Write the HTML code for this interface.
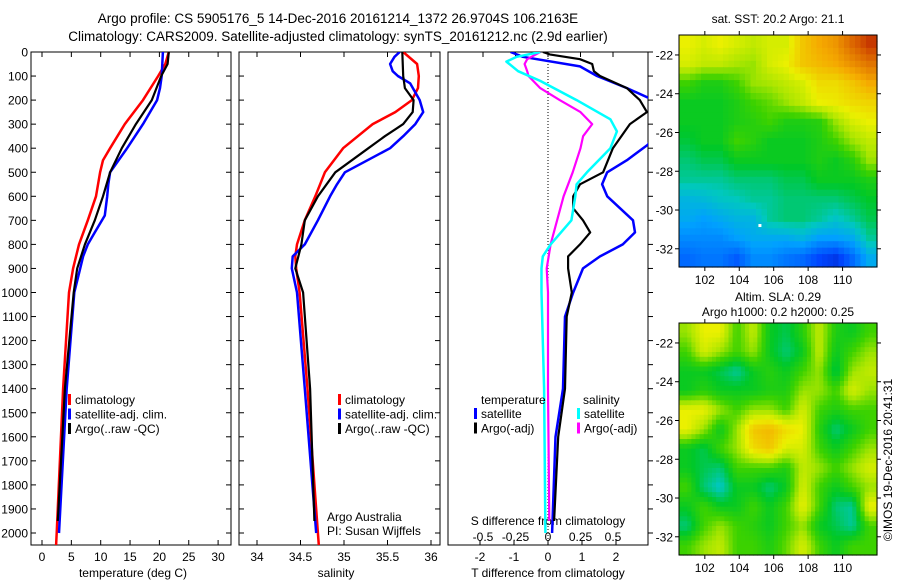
<!DOCTYPE html>
<html><head><meta charset="utf-8">
<style>
html,body{margin:0;padding:0;background:#fff;}
svg{display:block;font-family:"Liberation Sans",sans-serif;}
</style></head>
<body>
<svg id="fig" width="900" height="580" viewBox="0 0 900 580" xmlns="http://www.w3.org/2000/svg">
<text x="338" y="23" font-size="13.5" text-anchor="middle">Argo profile: CS 5905176_5 14-Dec-2016 20161214_1372 26.9704S 106.2163E</text>
<text x="338" y="41" font-size="13.5" text-anchor="middle">Climatology: CARS2009. Satellite-adjusted climatology: synTS_20161212.nc (2.9d earlier)</text>
<text x="778" y="23" font-size="12" text-anchor="middle">sat. SST: 20.2 Argo: 21.1</text>
<text x="778" y="301" font-size="12" text-anchor="middle">Altim. SLA: 0.29</text>
<text x="778" y="316" font-size="12" text-anchor="middle">Argo h1000: 0.2 h2000: 0.25</text>
<text transform="translate(892,460) rotate(-90)" font-size="12" text-anchor="middle">©IMOS 19-Dec-2016 20:41:31</text>
<g id="content"></g>
</svg>
<script>
// ---------- DATA ----------
const depthTicks = [0,100,200,300,400,500,600,700,800,900,1000,1100,1200,1300,1400,1500,1600,1700,1800,1900,2000];
const tempTicks = [0,5,10,15,20,25,30];
const salTicks = [34,34.5,35,35.5,36];
const salTickLabels = ["34","34.5","35","35.5","36"];
const tdiffTicks = [-2,-1,0,1,2];
const sdiffTicks = [-0.5,-0.25,0,0.25,0.5];
const sdiffTickLabels = ["-0.5","-0.25","0","0.25","0.5"];

const tClimDepth = [0,50,100,200,300,400,450,500,600,700,800,900,1000,1400,2000,2050];
const tClimVal   = [21.6,21.0,19.8,17.2,14.1,11.6,10.4,9.9,9.2,7.8,6.3,5.3,4.6,3.6,2.5,2.4];
const tSatDepth  = [0,100,150,200,300,400,500,550,600,680,750,800,850,900,1000,1400,2000];
const tSatVal    = [20.6,20.4,20.1,19.6,17.2,14.5,11.6,11.3,11.1,10.7,9.0,7.8,7.0,6.5,5.5,4.2,2.9];
const tArgoDepth = [0,50,100,200,300,400,500,600,700,800,900,1000,1400,1950];
const tArgoVal   = [21.6,21.4,20.3,18.7,16.0,13.6,11.6,10.4,9.0,7.3,6.0,5.4,3.9,2.7];

const sClimDepth = [0,50,100,150,200,250,300,400,500,600,700,800,850,900,1000,1400,2000,2050];
const sClimVal   = [35.68,35.84,35.86,35.85,35.78,35.59,35.33,34.99,34.78,34.67,34.55,34.46,34.44,34.45,34.49,34.58,34.70,34.71];
const sSatDepth  = [0,20,50,80,100,130,200,250,300,350,400,500,550,600,700,800,850,900,1000,1400,2000];
const sSatVal    = [35.64,35.58,35.53,35.56,35.62,35.76,35.87,35.91,35.82,35.68,35.53,35.01,34.92,34.84,34.70,34.55,34.41,34.40,34.46,34.55,34.68];
const sArgoDepth = [0,100,150,200,250,300,350,400,500,600,700,800,900,1000,1400,1950];
const sArgoVal   = [35.67,35.68,35.70,35.80,35.79,35.68,35.47,35.28,34.90,34.70,34.55,34.51,34.44,34.53,34.61,34.66];

const dtSatDepth = [0,20,60,100,150,200,300,385,450,500,550,600,700,750,800,850,900,1000,1100,1400,1600,2000];
const dtSatVal   = [-1.1,-0.74,0.94,1.44,2.32,3.1,3.3,2.94,2.32,1.74,1.59,1.74,2.5,2.56,2.2,1.53,1.03,0.74,0.5,0.44,0.22,0.12];
const dtArgoDepth = [0,10,30,50,80,100,150,200,250,300,400,500,550,600,650,700,750,800,850,900,1000,1100,1400,1600,1950];
const dtArgoVal   = [-0.15,0.05,0.94,1.3,1.35,1.53,2.32,2.7,2.91,2.41,1.91,1.62,0.94,0.74,0.74,1.03,1.24,0.94,0.59,0.59,0.7,0.55,0.5,0.3,0.18];
const dsSatDepth = [0,20,40,80,120,200,280,330,400,500,550,600,700,800,850,900,1000,1400,2000];
const dsSatVal   = [-0.06,-0.24,-0.32,-0.23,-0.06,0.22,0.48,0.53,0.48,0.30,0.22,0.21,0.18,0.02,-0.04,-0.05,-0.05,-0.03,-0.02];
const dsArgoDepth = [0,30,50,80,100,150,200,250,300,350,400,500,600,700,800,900,1000,1400,1950];
const dsArgoVal   = [-0.06,-0.16,-0.18,-0.16,-0.15,-0.06,0.09,0.25,0.34,0.27,0.25,0.19,0.12,0.07,0.02,-0.01,0.0,0.0,0.01];

const lonTicks = [102,104,106,108,110];
const latTicks = [-22,-24,-26,-28,-30,-32];
const sstGrid = [
[.62,.60,.62,.60,.58,.60,.60,.68,.72,.75,.82,.88],
[.60,.58,.58,.56,.55,.60,.62,.68,.70,.72,.76,.80],
[.50,.47,.47,.50,.55,.56,.58,.60,.65,.65,.68,.72],
[.45,.45,.45,.47,.50,.52,.55,.58,.62,.63,.65,.66],
[.45,.45,.45,.47,.48,.50,.47,.47,.48,.55,.60,.62],
[.43,.45,.45,.50,.48,.45,.45,.45,.47,.50,.55,.58],
[.40,.42,.42,.45,.45,.45,.45,.45,.47,.45,.48,.55],
[.38,.38,.38,.40,.40,.40,.42,.42,.45,.45,.45,.47],
[.32,.33,.35,.36,.38,.38,.40,.40,.40,.40,.42,.44],
[.30,.28,.30,.32,.32,.38,.40,.40,.38,.35,.38,.42],
[.25,.25,.25,.28,.30,.30,.30,.32,.28,.28,.30,.38],
[.20,.22,.22,.18,.25,.25,.22,.20,.15,.12,.20,.30]];
const slaGrid = [
[.55,.62,.62,.50,.58,.45,.42,.48,.58,.47,.45,.50],
[.50,.60,.55,.50,.55,.45,.40,.45,.58,.45,.50,.55],
[.45,.45,.42,.38,.45,.48,.45,.50,.55,.42,.55,.58],
[.45,.48,.45,.45,.45,.47,.47,.55,.55,.50,.60,.55],
[.62,.62,.55,.50,.55,.55,.50,.60,.50,.47,.50,.50],
[.62,.55,.45,.55,.68,.70,.65,.62,.48,.40,.45,.50],
[.45,.42,.50,.55,.65,.68,.60,.60,.50,.45,.50,.55],
[.45,.42,.40,.50,.50,.50,.47,.58,.55,.50,.55,.60],
[.50,.40,.35,.45,.45,.40,.45,.60,.50,.45,.50,.55],
[.45,.50,.45,.45,.50,.45,.50,.62,.50,.40,.38,.62],
[.40,.50,.55,.50,.48,.45,.50,.55,.45,.42,.38,.50],
[.50,.55,.58,.50,.50,.47,.52,.60,.50,.45,.50,.50]];

// ---------- HELPERS ----------
const NS="http://www.w3.org/2000/svg";
const root=document.getElementById('content');
function mk(tag,attrs,parent){const e=document.createElementNS(NS,tag);for(const k in attrs)e.setAttribute(k,attrs[k]);(parent||root).appendChild(e);return e;}
const TOP=52, BOT=545;
const yD = d => TOP + d*0.2405;
const xT = v => 42 + v*5.87;
const xS = v => 257 + (v-34)*87;
const xDT = v => 548 + v*34;
const xDS = v => 548 + v*130;

function frame(x0,x1,name){
  const r=mk('rect',{x:x0,y:TOP,width:x1-x0,height:BOT-TOP,fill:'none',stroke:'#000','stroke-width':1});
  
  
}
function series(ds,vs,xf,color,w,name,x0,x1){
  const cid='c'+name;
  const cp=mk('clipPath',{id:cid});mk('rect',{x:x0,y:TOP,width:x1-x0,height:BOT-TOP},cp);
  const pts=ds.map((d,i)=>xf(vs[i]).toFixed(1)+','+yD(d).toFixed(1)).join(' ');
  const p=mk('polyline',{points:pts,fill:'none',stroke:color,'stroke-width':w,'stroke-linejoin':'round','clip-path':'url(#'+cid+')'});
  
  
}
function xticks(ticks,labels,xf,x0,x1,ly,name,top){
  ticks.forEach((t,i)=>{
    const x=xf(t);
    mk('line',{x1:x,y1:BOT,x2:x,y2:BOT-5,stroke:'#000'});
    if(top) mk('line',{x1:x,y1:TOP,x2:x,y2:TOP+5,stroke:'#000'});
    const tx=mk('text',{x:x,y:ly,'font-size':12,'text-anchor':'middle'});
    tx.textContent=labels[i];
    
    
  });
}
function axisTitle(x,y,txt,name){
  const t=mk('text',{x:x,y:y,'font-size':12,'text-anchor':'middle'});t.textContent=txt;
  
  
}
function legend(items,x,y0,name){
  items.forEach((it,i)=>{
    const y=y0+i*14.5;
    mk('rect',{x:x,y:y-10,width:3,height:11,fill:it[1]});
    const t=mk('text',{x:x+7,y:y,'font-size':12});t.textContent=it[0];
    
    
  });
}

// ---------- PANEL 1: temperature ----------
frame(31,231,'temperature-panel');
depthTicks.forEach(d=>{
  const y=yD(d);
  mk('line',{x1:31,y1:y,x2:36,y2:y,stroke:'#000'});
  mk('line',{x1:231,y1:y,x2:226,y2:y,stroke:'#000'});
  mk('line',{x1:239,y1:y,x2:244,y2:y,stroke:'#000'});
  mk('line',{x1:440,y1:y,x2:435,y2:y,stroke:'#000'});
  mk('line',{x1:648,y1:y,x2:653,y2:y,stroke:'#000'});
  const t=mk('text',{x:28,y:y+4.5,'font-size':12,'text-anchor':'end'});t.textContent=d;
  
  
});
xticks(tempTicks,tempTicks.map(String),xT,31,231,561,'temperature',true);
axisTitle(133,577,'temperature (deg C)','temperature-axis-title');
series(tClimDepth,tClimVal,xT,'#ff0000',2.5,'temp-climatology-line',31,231);
series(tSatDepth,tSatVal,xT,'#0000ff',2.5,'temp-satellite-line',31,231);
series(tArgoDepth,tArgoVal,xT,'#000000',2.2,'temp-argo-line',31,231);
legend([['climatology','#f00'],['satellite-adj. clim.','#00f'],['Argo(..raw -QC)','#000']],68,404,'temp-legend');

// ---------- PANEL 2: salinity ----------
frame(239,440,'salinity-panel');
xticks(salTicks,salTickLabels,xS,239,440,561,'salinity',true);
axisTitle(336,577,'salinity','salinity-axis-title');
series(sClimDepth,sClimVal,xS,'#ff0000',2.5,'sal-climatology-line',239,440);
series(sSatDepth,sSatVal,xS,'#0000ff',2.5,'sal-satellite-line',239,440);
series(sArgoDepth,sArgoVal,xS,'#000000',2.2,'sal-argo-line',239,440);
legend([['climatology','#f00'],['satellite-adj. clim.','#00f'],['Argo(..raw -QC)','#000']],338,404,'sal-legend');
(function(){const t=mk('text',{x:327,y:521,'font-size':12});t.textContent='Argo Australia';

const t2=mk('text',{x:327,y:535,'font-size':12});t2.textContent='PI: Susan Wijffels';
})();

// ---------- PANEL 3: differences ----------
frame(448,648,'difference-panel');
mk('line',{x1:548,y1:TOP,x2:548,y2:BOT,stroke:'#000','stroke-dasharray':'1,2'});
xticks(tdiffTicks,tdiffTicks.map(String),xDT,448,648,561,'tdiff',false);
sdiffTicks.forEach(t=>{mk('line',{x1:xDS(t),y1:TOP,x2:xDS(t),y2:TOP+5,stroke:'#000'});});
sdiffTicks.forEach((t,i)=>{const tx=mk('text',{x:xDS(t),y:541,'font-size':12,'text-anchor':'middle'});tx.textContent=sdiffTickLabels[i];
});
axisTitle(548,525,'S difference from climatology','sdiff-axis-title');
axisTitle(548,577,'T difference from climatology','tdiff-axis-title');
series(dtSatDepth,dtSatVal,xDT,'#0000ff',2.5,'tdiff-satellite-line',448,648);
series(dtArgoDepth,dtArgoVal,xDT,'#000000',2.2,'tdiff-argo-line',448,648);
series(dsArgoDepth,dsArgoVal,xDS,'#ff00ff',2.2,'sdiff-argo-line',448,648);
series(dsSatDepth,dsSatVal,xDS,'#00ffff',2.5,'sdiff-satellite-line',448,648);
(function(){const t=mk('text',{x:481,y:404,'font-size':12});t.textContent='temperature';

const s=mk('text',{x:583,y:404,'font-size':12});s.textContent='salinity';
})();
legend([['satellite','#00f'],['Argo(-adj)','#000']],474,418,'tdiff-legend');
legend([['satellite','#0ff'],['Argo(-adj)','#f0f']],577,418,'sdiff-legend');

// ---------- MAPS ----------
const cmapStops=[[0,[0,0,140]],[0.15,[0,70,255]],[0.28,[0,160,255]],[0.36,[0,200,190]],[0.44,[0,200,40]],[0.5,[60,210,0]],[0.56,[170,230,0]],[0.62,[235,240,0]],[0.72,[245,170,0]],[0.84,[215,90,0]],[0.95,[170,0,0]],[1,[130,0,0]]];
function cmap(v){
  v=Math.max(0,Math.min(1,v));
  for(let i=1;i<cmapStops.length;i++){
    if(v<=cmapStops[i][0]){const a=cmapStops[i-1],b=cmapStops[i],f=(v-a[0])/(b[0]-a[0]);
      return 'rgb('+a[1].map((c,k)=>Math.round(c+(b[1][k]-c)*f)).join(',')+')';}
  }
  return 'rgb(130,0,0)';
}
const MX0=679, MX1=877, LON0=100.5, LON1=112.0;
const xLon = l => MX0 + (l-LON0)/(LON1-LON0)*(MX1-MX0);
function sample(grid,fi,fj){
  const nr=grid.length,nc=grid[0].length;
  fi=Math.max(0,Math.min(nr-1,fi));fj=Math.max(0,Math.min(nc-1,fj));
  const i0=Math.floor(fi),j0=Math.floor(fj),i1=Math.min(nr-1,i0+1),j1=Math.min(nc-1,j0+1);
  const a=fi-i0,b=fj-j0;
  return grid[i0][j0]*(1-a)*(1-b)+grid[i0][j1]*(1-a)*b+grid[i1][j0]*a*(1-b)+grid[i1][j1]*a*b;
}
function drawMap(grid,top,name,sub){
  const h=232, LAT0=-20.97, LAT1=-32.94;
  const yLat = l => top + (LAT0-l)/(LAT0-LAT1)*h;
  const nr=grid.length, nc=grid[0].length;
  const g=mk('g',{});
  
  
  const R=nr*sub, C=nc*sub;
  for(let i=0;i<R;i++)for(let j=0;j<C;j++){
    const v=sample(grid,(i+0.5)/sub-0.5,(j+0.5)/sub-0.5);
    const lonA=LON0+(LON1-LON0)*j/C, lonB=LON0+(LON1-LON0)*(j+1)/C;
    const latA=LAT0+(LAT1-LAT0)*i/R, latB=LAT0+(LAT1-LAT0)*(i+1)/R;
    const c=mk('rect',{x:xLon(lonA).toFixed(2),y:yLat(latA).toFixed(2),width:(xLon(lonB)-xLon(lonA)+0.6).toFixed(2),height:(yLat(latB)-yLat(latA)+0.6).toFixed(2),fill:cmap(v)},g);
    
    
  }
  mk('rect',{x:MX0,y:top,width:MX1-MX0,height:h,fill:'none',stroke:'#000'});
  lonTicks.forEach(l=>{const x=xLon(l);
    mk('line',{x1:x,y1:top,x2:x,y2:top-4,stroke:'#000'});
    mk('line',{x1:x,y1:top+h,x2:x,y2:top+h+4,stroke:'#000'});
    const t=mk('text',{x:x,y:top+h+17,'font-size':12,'text-anchor':'middle'});t.textContent=l;
    });
  latTicks.forEach(l=>{const y=yLat(l);
    mk('line',{x1:MX0,y1:y,x2:MX0-4,y2:y,stroke:'#000'});
    mk('line',{x1:MX1,y1:y,x2:MX1+4,y2:y,stroke:'#000'});
    const t=mk('text',{x:MX0-6,y:y+4.5,'font-size':12,'text-anchor':'end'});t.textContent=l;
    });
  return yLat;
}
const yLat1=drawMap(sstGrid,35,'sst-map',3);
(function(){const m=mk('rect',{x:xLon(105.2)-1.5,y:yLat1(-30.8)-1.5,width:3,height:3,fill:'#fff'});
})();
drawMap(slaGrid,323,'sla-map',4);
</script>
</body></html>
